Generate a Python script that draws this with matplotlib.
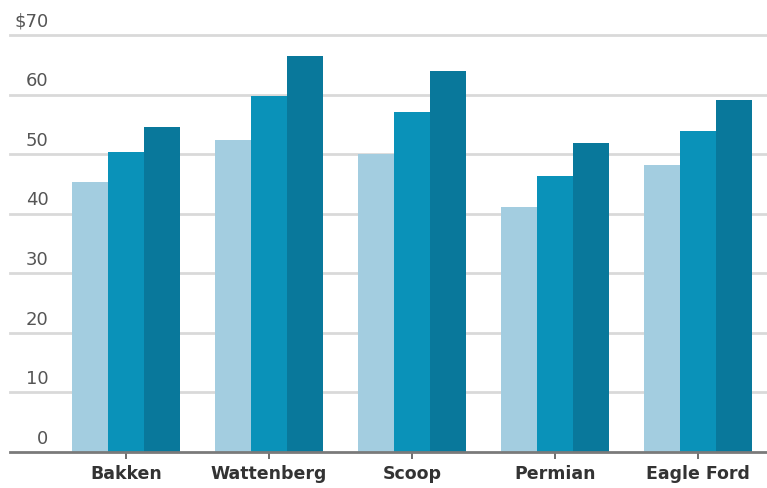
import numpy as np
import matplotlib.pyplot as plt

# breakeven price per barrel, three series per basin
basins = ['Bakken', 'Wattenberg', 'Scoop', 'Permian', 'Eagle Ford']
series_a = [45.4, 52.3, 50.1, 41.2, 48.1]
series_b = [50.4, 59.8, 57.0, 46.4, 53.9]
series_c = [54.6, 66.5, 64.0, 51.9, 59.1]
y_ticks = [0, 10, 20, 30, 40, 50, 60, 70]
y_labels = ['0', '10', '20', '30', '40', '50', '60', '$70']

colors = ['#a3cde0', '#0a92b9', '#09789b']

fig = plt.figure(figsize=(7.67, 4.89), dpi=100)
ax = fig.add_axes([10/767, 1-453/489, 757/767, 417/489])

x = np.arange(len(basins))
w = 0.252
for k, (vals, c) in enumerate(zip([series_a, series_b, series_c], colors)):
    ax.bar(x + (k-1)*w, vals, width=w, color=c, linewidth=0, zorder=2)

ax.set_xlim(-0.811, 4.483)
ax.set_ylim(0, 70)

## gridlines + y labels sitting above them
for t in y_ticks[1:]:
    ax.axhline(t, color='#d9d9d9', lw=2, zorder=1, clip_on=False)
for t, lab in zip(y_ticks, y_labels):
    ax.text(0.051, t + 2.4, lab, transform=ax.get_yaxis_transform(),
            ha='right', va='center', fontsize=13, color='#555555')
ax.axhline(0, color='#7a7a7a', lw=2, zorder=3, clip_on=False)

for s in ax.spines.values():
    s.set_visible(False)
ax.set_yticks([])
ax.set_xticks(x)
ax.set_xticklabels(basins, fontsize=12.5, fontweight='bold', color='#333333')
ax.tick_params(axis='x', length=5, width=1.2, color='#555555', pad=4)

fig.savefig('out.png', dpi=100)
